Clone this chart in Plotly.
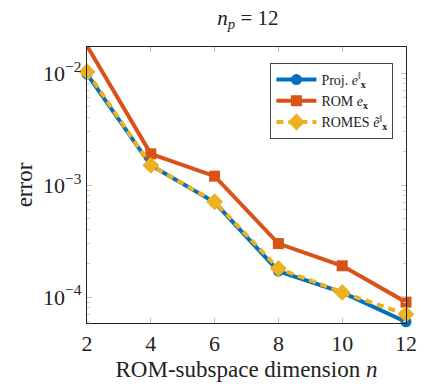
import plotly.graph_objects as go
import numpy as np

n_vals = [2, 4, 6, 8, 10, 12]
proj_err = [9.8e-3, 1.5e-3, 7.0e-4, 1.7e-4, 1.1e-4, 6.0e-5]
rom_err = [1.75e-2, 1.9e-3, 1.2e-3, 3.0e-4, 1.9e-4, 9.0e-5]
romes_err = [1.03e-2, 1.5e-3, 7.1e-4, 1.8e-4, 1.1e-4, 7.0e-5]

y_ticks = [1e-4, 1e-3, 1e-2]
y_ticktext = ["10<sup>\u22124</sup>", "10<sup>\u22123</sup>", "10<sup>\u22122</sup>"]
x_ticks = [2, 4, 6, 8, 10, 12]

FONT = "Liberation Serif"
blue = "#0072BD"
orange = "#D95319"
yellow = "#EDB120"

fig = go.Figure()
fig.add_trace(go.Scatter(
    x=n_vals, y=proj_err, mode="lines+markers",
    name="Proj. <i>e</i><sup>\u2016</sup><sub><b>x</b></sub>",
    line=dict(color=blue, width=4),
    marker=dict(symbol="circle", size=11, color=blue),
    cliponaxis=False))
fig.add_trace(go.Scatter(
    x=n_vals, y=rom_err, mode="lines+markers",
    name="ROM <i>e</i><sub><b>x</b></sub>",
    line=dict(color=orange, width=4),
    marker=dict(symbol="square", size=11, color=orange),
    cliponaxis=False))
fig.add_trace(go.Scatter(
    x=n_vals, y=romes_err, mode="lines+markers",
    name="ROMES <i>\u1ebd</i><sup>\u2016</sup><sub><b>x</b></sub>",
    line=dict(color=yellow, width=4, dash="7px,5px"),
    marker=dict(symbol="diamond", size=13, color=yellow),
    cliponaxis=False))

minor_vals = []
for d in [-5, -4, -3, -2]:
    for k in range(2, 10):
        minor_vals.append(k * 10.0 ** d)

fig.update_layout(
    width=429, height=390,
    margin=dict(l=87, r=19, t=47, b=67),
    paper_bgcolor="white", plot_bgcolor="white",
    font=dict(family=FONT, size=22, color="#222"),
    title=dict(text="<i>n</i><sub><i>p</i></sub> = 12", x=0.578, xanchor="center",
               y=0.955, yanchor="middle", font=dict(size=21)),
    showlegend=True,
    legend=dict(x=0.575, y=0.942, xanchor="left", yanchor="top",
                bordercolor="#444", borderwidth=1, bgcolor="white",
                font=dict(size=14), tracegroupgap=2, itemwidth=40),
)
fig.update_xaxes(
    range=[2, 12], tickvals=x_ticks, ticks="inside", ticklen=5, tickcolor="#bbb",
    showline=True, linecolor="#222", linewidth=1.2, mirror="ticks",
    showgrid=False, zeroline=False,
    title=dict(text="ROM-subspace dimension <i>n</i>", font=dict(size=23), standoff=6),
    tickfont=dict(size=22))
fig.update_yaxes(
    type="log", range=[np.log10(5.86e-5), np.log10(0.0171)],
    tickvals=y_ticks, ticktext=y_ticktext, ticks="inside", ticklen=5, tickcolor="#bbb",
    minor=dict(tickvals=minor_vals, ticks="inside", ticklen=3, tickcolor="#ccc"),
    showline=True, linecolor="#222", linewidth=1.2, mirror="ticks",
    showgrid=False, zeroline=False,
    title=dict(text="error", font=dict(size=23), standoff=4),
    tickfont=dict(size=22))

fig.write_html("out.html")
